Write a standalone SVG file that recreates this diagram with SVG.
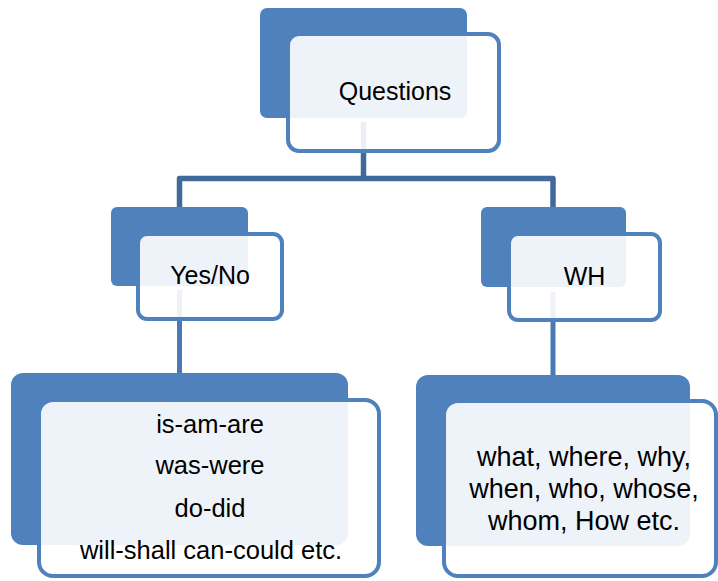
<svg xmlns="http://www.w3.org/2000/svg" width="718" height="581" viewBox="0 0 718 581">
  <style>
    .back { fill: #4F81BD; }
    .front { fill: #FFFFFF; fill-opacity: 0.9; stroke: #4F81BD; stroke-width: 4; }
    .conn { fill: none; stroke: #41699C; stroke-width: 5.5; stroke-linejoin: round; }
    .conn2 { fill: none; stroke: #4A7AB5; stroke-width: 5; }
    text { font-family: "Liberation Sans", Arial, sans-serif; fill: #000000; text-anchor: middle; }
  </style>
  <rect width="718" height="581" fill="#FFFFFF"/>

  <g id="node-questions">
    <rect class="back" x="260" y="8" width="207" height="110" rx="7"/>
  </g>
  <g id="node-yesno">
    <rect class="back" x="111" y="207" width="137" height="79" rx="6"/>
  </g>
  <g id="node-wh">
    <rect class="back" x="481" y="207" width="145" height="80" rx="6"/>
  </g>
  <g id="node-yesno-list">
    <rect class="back" x="11" y="373" width="337" height="172" rx="12"/>
  </g>
  <g id="node-wh-list">
    <rect class="back" x="416" y="375" width="274" height="171" rx="12"/>
  </g>

  <g id="connectors">
    <path class="conn" d="M363.5,122 V178.5"/>
    <path class="conn" d="M179.5,207 V178.5 H553 V207"/>
    <path class="conn2" d="M179.5,290 V373"/>
    <path class="conn2" d="M553,292 V375"/>
  </g>

  <g id="node-questions-front">
    <rect class="front" x="288" y="34" width="211" height="117" rx="11"/>
    <text x="395" y="100" font-size="25">Questions</text>
  </g>
  <g id="node-yesno-front">
    <rect class="front" x="138" y="234" width="144" height="85" rx="9"/>
    <text x="210" y="284" font-size="25">Yes/No</text>
  </g>
  <g id="node-wh-front">
    <rect class="front" x="509" y="234" width="151" height="86" rx="9"/>
    <text x="584.5" y="285" font-size="25">WH</text>
  </g>
  <g id="node-yesno-list-front">
    <rect class="front" x="39" y="400" width="340" height="176" rx="14"/>
    <text x="210" y="433" font-size="25.5">is-am-are</text>
    <text x="210" y="474" font-size="25.5">was-were</text>
    <text x="210" y="517" font-size="25.5">do-did</text>
    <text x="211" y="559" font-size="25.5">will-shall can-could etc.</text>
  </g>
  <g id="node-wh-list-front">
    <rect class="front" x="444" y="401" width="272" height="175" rx="14"/>
    <text x="584" y="466" font-size="27">what, where, why,</text>
    <text x="584" y="498" font-size="27">when, who, whose,</text>
    <text x="584" y="530" font-size="27">whom, How etc.</text>
  </g>
</svg>
